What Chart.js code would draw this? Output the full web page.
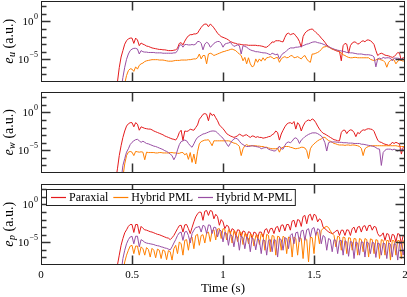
<!DOCTYPE html>
<html>
<head>
<meta charset="utf-8">
<script src="https://cdn.jsdelivr.net/npm/chart.js@4.4.1/dist/chart.umd.min.js"></script>
<style>
  html, body { margin: 0; padding: 0; background: #fff; }
  #wrap { position: relative; width: 407px; height: 297px; }
  #wrap canvas { position: absolute; left: 0; top: 0; }
</style>
</head>
<body>
<div id="wrap">
  <canvas id="cu" width="407" height="297"></canvas>
  <canvas id="cw" width="407" height="297"></canvas>
  <canvas id="cp" width="407" height="297"></canvas>
</div>
<script>
// time grid (s), 0.40 .. 2.00 every 0.01
const time = [];
for (let i = 0; i <= 160; i++) time.push(+(0.40 + i * 0.01).toFixed(2));

const names = ['Paraxial', 'Hybrid PML', 'Hybrid M-PML'];
const colors = ['#e41a1c', '#ff7f00', '#984ea3'];
const xTicks = [0, 0.5, 1, 1.5, 2];

// values are log10 of the error (a.u.)
const uParaxial = [
  -9, -9, -8, -6.1, -4.7, -3.85, -3.0, -2.55, -2.3, -2.2,
  -2.2, -2.9, -2.2, -2.45, -3.2, -2.85, -3.0, -3.1, -3.25, -3.3,
  -3.4, -3.5, -3.55, -3.6, -3.65, -3.7, -3.7, -3.75, -3.75, -3.8,
  -3.85, -3.85, -3.85, -3.8, -3.75, -3.55, -2.9, -2.8, -3.1, -2.6,
  -2.2, -1.9, -1.75, -1.75, -1.65, -1.65, -1.55, -1.15, -0.8, -0.5,
  -0.35, -0.35, -0.7, -0.35, -0.55, -0.85, -1.2, -1.55, -1.8, -2.0,
  -2.1, -2.2, -2.3, -2.45, -2.65, -2.75, -2.85, -2.9, -3.0, -3.0,
  -3.05, -3.1, -3.1, -3.1, -3.15, -3.15, -3.15, -3.15, -3.15, -3.2,
  -3.2, -3.25, -3.3, -3.4, -3.4, -3.2, -3.0, -2.7, -2.75, -2.55,
  -2.55, -2.55, -2.65, -2.7, -2.1, -1.65, -1.55, -1.75, -1.65, -1.6,
  -1.9, -2.2, -2.65, -3.4, -2.0, -1.55, -1.3, -1.15, -1.05, -1.0,
  -1.2, -1.45, -1.65, -1.9, -2.2, -2.45, -2.75, -3.1, -3.3, -3.5,
  -3.65, -3.75, -3.85, -3.95, -3.95, -5.2, -3.2, -2.9, -3.0, -4.2,
  -3.2, -2.85, -2.7, -2.75, -3.0, -2.9, -2.65, -2.55, -2.7, -2.45,
  -2.45, -2.55, -2.75, -3.05, -3.85, -4.5, -4.3, -4.2, -4.3, -4.45,
  -4.5, -4.55, -4.65, -4.75, -4.65, -4.4, -4.1, -4.2, -5.2, -4.75,
  -5.0
];
const uPml = [
  -9, -9, -9, -9, -9, -9, -8.2, -7.15, -6.5, -6.25,
  -6.3, -6.6, -6.0, -6.3, -5.8, -5.6, -5.5, -5.3, -5.2, -5.15,
  -5.1, -5.05, -5.05, -5.05, -5.05, -5.1, -5.1, -5.1, -5.15, -5.2,
  -5.25, -5.25, -5.25, -5.2, -5.15, -5.15, -5.15, -5.1, -5.1, -5.1,
  -5.1, -5.05, -5.05, -5.0, -4.95, -4.95, -4.8, -4.3, -4.95, -4.5,
  -4.5, -5.6, -4.3, -4.2, -4.3, -4.5, -4.4, -4.3, -4.2, -4.1,
  -4.0, -3.95, -3.85, -3.8, -3.7, -3.65, -3.75, -3.85, -4.1, -4.3,
  -4.5, -5.2, -4.75, -5.6, -4.8, -5.6, -6.0, -5.85, -4.95, -5.4,
  -4.95, -5.25, -4.8, -5.15, -4.8, -4.75, -4.65, -4.75, -4.95, -4.8,
  -4.75, -5.4, -4.95, -4.75, -4.65, -4.8, -4.75, -4.55, -4.5, -4.8,
  -4.75, -4.65, -4.8, -4.95, -4.65, -4.5, -4.95, -5.25, -5.4, -4.3,
  -4.3, -4.2, -4.1, -3.95, -3.7, -3.4, -3.35, -3.3, -3.4, -3.5,
  -3.65, -3.7, -3.75, -3.85, -3.95, -4.2, -4.4, -4.5, -4.65, -4.75,
  -4.8, -4.8, -4.75, -4.75, -4.8, -4.8, -4.8, -4.8, -4.8, -4.8,
  -4.8, -5.0, -5.1, -5.15, -5.1, -4.95, -5.0, -5.1, -5.15, -5.4,
  -6.05, -5.4, -5.15, -5.0, -5.1, -5.6, -5.25, -5.1, -5.15, -5.25,
  -5.1
];
const uMpml = [
  -9, -9, -9, -9, -9, -7.4, -6.05, -5.0, -4.3, -3.85,
  -3.65, -3.55, -3.55, -3.65, -4.3, -3.85, -4.0, -4.05, -4.05, -4.1,
  -4.1, -4.1, -4.1, -4.15, -4.15, -4.15, -4.15, -4.2, -4.2, -4.2,
  -4.2, -4.2, -4.2, -4.15, -4.15, -3.85, -3.2, -3.05, -3.4, -3.05,
  -3.05, -3.1, -3.1, -3.05, -3.1, -3.0, -2.65, -2.65, -2.9, -3.75,
  -3.0, -2.75, -2.9, -3.4, -3.2, -2.9, -2.75, -2.65, -2.65, -2.9,
  -3.4, -3.0, -2.9, -2.85, -2.75, -3.05, -3.3, -3.2, -3.1, -3.2,
  -4.3, -3.2, -3.3, -3.4, -3.6, -3.75, -3.85, -3.9, -4.0, -4.0,
  -4.05, -4.1, -4.15, -4.15, -4.2, -4.3, -4.4, -4.2, -4.3, -4.4,
  -4.3, -4.95, -4.5, -4.2, -4.1, -3.85, -3.65, -3.5, -3.5, -3.5,
  -3.4, -3.4, -3.35, -3.3, -3.2, -3.1, -3.0, -2.95, -2.85, -2.75,
  -2.7, -2.7, -2.8, -2.85, -2.9, -3.0, -3.1, -3.2, -3.35, -3.45,
  -3.55, -3.65, -3.75, -3.8, -3.85, -3.9, -3.95, -4.0, -4.1, -4.1,
  -4.15, -4.15, -4.2, -4.25, -4.3, -4.3, -4.3, -4.35, -4.4, -4.4,
  -4.4, -4.45, -4.5, -4.7, -6.0, -4.95, -4.85, -4.95, -4.75, -4.85,
  -4.8, -4.8, -4.85, -5.2, -4.85, -4.85, -4.85, -4.9, -4.95, -5.0,
  -5.1
];

const wParaxial = [
  -9, -9, -7.45, -5.7, -4.4, -3.3, -2.45, -1.8, -1.5, -1.35,
  -1.35, -1.9, -1.35, -1.55, -2.35, -1.9, -2.0, -2.1, -2.15, -2.2,
  -2.2, -2.3, -2.45, -2.55, -2.65, -2.75, -2.85, -2.95, -3.1, -3.2,
  -3.3, -3.4, -3.5, -3.55, -3.65, -3.3, -2.65, -2.35, -3.7, -2.45,
  -2.5, -2.45, -2.2, -2.3, -2.35, -2.0, -1.65, -0.9, -0.6, -0.25,
  -0.15, -0.25, -1.1, -0.05, -0.4, -0.25, -0.7, -1.1, -1.65, -1.9,
  -2.15, -2.45, -2.8, -2.95, -3.1, -3.2, -3.3, -3.2, -3.1, -2.85,
  -3.0, -3.15, -3.0, -2.95, -3.15, -3.3, -3.1, -3.15, -3.3, -3.2,
  -3.3, -3.3, -3.4, -3.35, -3.3, -3.2, -3.15, -2.95, -2.8, -2.45,
  -2.65, -3.65, -2.85, -2.35, -1.9, -1.55, -1.4, -1.35, -1.5, -1.2,
  -2.2, -1.35, -1.65, -2.45, -1.8, -1.35, -1.1, -1.0, -1.1, -0.85,
  -1.0, -1.35, -1.8, -2.2, -2.5, -2.75, -2.85, -3.0, -3.15, -3.3,
  -3.45, -3.6, -3.65, -3.75, -3.75, -2.65, -2.35, -2.35, -2.8, -2.45,
  -2.3, -2.35, -2.65, -3.2, -2.65, -2.8, -2.45, -2.3, -2.35, -2.2,
  -2.15, -2.2, -2.25, -2.5, -3.1, -3.65, -3.9, -3.95, -4.1, -4.2,
  -4.25, -4.35, -4.25, -3.95, -4.1, -3.95, -4.05, -4.2, -5.5, -4.6,
  -4.4
];
const wPml = [
  -9, -9, -9, -9, -9, -8.5, -6.8, -5.7, -5.25, -5.15,
  -5.25, -5.7, -5.15, -5.2, -5.25, -5.2, -5.25, -6.25, -5.25, -5.3,
  -5.3, -5.3, -5.3, -5.35, -5.35, -5.3, -5.3, -5.35, -5.35, -5.35,
  -5.35, -5.3, -5.3, -5.35, -5.35, -5.4, -5.4, -5.3, -5.3, -5.6,
  -5.4, -6.2, -5.3, -6.6, -5.5, -6.8, -5.2, -4.15, -3.85, -3.75,
  -3.65, -3.65, -3.6, -3.95, -4.4, -3.75, -3.75, -3.75, -3.75, -3.75,
  -3.75, -3.75, -3.75, -3.75, -3.8, -3.95, -4.05, -4.1, -4.25, -4.5,
  -5.7, -4.8, -4.4, -4.25, -4.4, -4.4, -4.4, -4.4, -4.4, -4.45,
  -4.45, -4.5, -4.5, -4.6, -4.6, -4.7, -4.75, -4.8, -4.8, -4.8,
  -4.7, -5.25, -4.7, -4.6, -4.5, -4.5, -4.5, -4.6, -4.65, -4.75,
  -4.8, -4.75, -4.7, -4.6, -4.6, -4.7, -5.05, -6.1, -4.8, -4.4,
  -4.15, -3.95, -3.75, -3.6, -3.5, -3.3, -3.3, -3.5, -3.75, -3.8,
  -3.95, -4.1, -4.15, -4.25, -4.3, -4.3, -4.3, -4.35, -4.3, -4.3,
  -4.35, -4.3, -4.3, -4.35, -4.4, -4.5, -4.75, -5.7, -4.8, -4.6,
  -4.5, -4.4, -4.4, -4.4, -4.4, -4.4, -4.4, -4.4, -4.4, -4.4,
  -4.4, -4.4, -4.4, -4.4, -4.4, -4.4, -4.45, -4.5, -4.5, -4.5,
  -4.5
];
const wMpml = [
  -9, -9, -9, -9, -9, -7.0, -6.1, -5.25, -4.8, -4.25,
  -3.95, -3.75, -3.6, -3.55, -3.75, -3.95, -3.8, -3.95, -4.1, -4.15,
  -4.25, -4.35, -4.45, -4.5, -4.6, -4.7, -4.8, -4.9, -5.05, -5.15,
  -5.3, -5.5, -5.7, -6.25, -5.8, -4.95, -4.25, -3.85, -3.75, -3.65,
  -3.75, -4.1, -4.4, -4.6, -4.15, -3.65, -3.3, -3.15, -3.0, -2.85,
  -2.8, -2.7, -2.6, -2.5, -2.45, -2.45, -2.5, -2.7, -2.95, -3.2,
  -3.4, -3.75, -4.15, -4.5, -4.1, -3.75, -3.5, -3.4, -3.5, -3.8,
  -4.1, -4.25, -4.4, -4.5, -4.5, -4.45, -4.4, -4.45, -4.5, -4.55,
  -4.6, -4.8, -4.7, -4.65, -4.65, -4.85, -4.95, -5.0, -5.1, -5.05,
  -4.8, -4.45, -4.8, -4.85, -4.35, -4.0, -3.9, -4.0, -3.8, -3.45,
  -3.35, -3.55, -4.1, -3.65, -3.45, -3.2, -3.05, -2.9, -2.8, -2.7,
  -2.7, -2.7, -2.8, -2.95, -3.1, -3.45, -4.0, -5.1, -4.0, -3.9,
  -3.9, -3.9, -3.9, -3.95, -3.95, -3.95, -4.0, -4.0, -4.0, -4.05,
  -4.05, -4.05, -4.1, -4.1, -4.1, -4.1, -4.2, -4.2, -4.25, -4.3,
  -4.35, -4.4, -4.45, -4.5, -4.65, -4.8, -4.85, -7.0, -5.3, -5.0,
  -4.85, -4.85, -4.85, -4.95, -4.85, -4.95, -5.1, -4.95, -4.85, -4.95,
  -4.95
];

const pParaxial = [
  -9, -9, -8.0, -6.7, -5.4, -4.5, -3.75, -3.35, -2.9, -2.65,
  -2.65, -3.7, -2.65, -2.65, -3.85, -2.9, -3.15, -3.35, -3.4, -3.5,
  -3.6, -3.65, -3.75, -3.85, -3.95, -4.0, -4.1, -4.2, -4.3, -4.4,
  -4.45, -4.65, -4.4, -4.1, -3.65, -3.2, -2.8, -2.75, -3.65, -2.7,
  -2.65, -3.2, -3.85, -3.05, -2.3, -1.65, -1.25, -1.0, -1.05, -2.1,
  -0.9, -0.8, -1.45, -0.8, -0.9, -1.9, -1.3, -1.6, -2.75, -2.0,
  -2.3, -3.2, -2.75, -2.9, -3.85, -3.2, -3.35, -4.1, -3.35, -3.4,
  -4.3, -3.5, -3.6, -4.4, -3.6, -3.7, -4.5, -3.65, -3.75, -4.5,
  -3.65, -3.65, -4.3, -3.35, -3.2, -3.85, -3.2, -3.15, -3.85, -3.05,
  -2.9, -3.65, -2.75, -2.7, -3.5, -2.65, -2.65, -3.4, -2.2, -2.1,
  -3.0, -2.0, -2.1, -2.9, -1.6, -1.45, -2.55, -1.45, -1.3, -2.1,
  -1.3, -1.45, -2.3, -1.9, -2.1, -3.0, -3.2, -3.4, -3.65, -3.75,
  -3.85, -3.75, -3.5, -3.4, -4.1, -3.4, -3.4, -4.1, -3.35, -3.4,
  -4.1, -3.2, -3.0, -3.75, -3.0, -2.9, -3.65, -2.9, -2.8, -3.5,
  -2.8, -2.75, -3.4, -2.9, -3.0, -3.85, -4.2, -4.1, -3.75, -4.75,
  -3.85, -3.95, -4.95, -3.95, -4.05, -4.95, -3.85, -3.95, -5.2, -4.1,
  -4.2
];
const pPml = [
  -9, -9, -9, -9, -9, -9, -7.6, -6.7, -6.05, -5.5,
  -5.4, -6.5, -5.5, -5.5, -6.7, -5.6, -5.85, -6.7, -5.7, -5.95,
  -6.95, -5.8, -6.05, -7.05, -5.9, -6.05, -7.15, -6.0, -6.15, -7.3,
  -6.1, -6.25, -7.35, -5.85, -5.4, -6.5, -4.95, -5.2, -6.7, -4.75,
  -4.65, -6.05, -4.5, -4.3, -5.85, -4.1, -3.95, -5.4, -4.1, -4.0,
  -5.1, -3.8, -3.65, -4.9, -3.5, -3.35, -4.7, -3.25, -3.2, -4.5,
  -3.2, -3.3, -4.7, -3.35, -3.5, -5.1, -3.5, -3.65, -4.9, -3.65,
  -3.7, -5.3, -3.85, -3.95, -5.2, -3.95, -4.05, -5.5, -4.1, -4.05,
  -5.3, -3.85, -4.05, -6.05, -3.95, -4.1, -6.25, -4.1, -4.2, -6.7,
  -4.2, -4.3, -6.05, -4.2, -4.4, -6.5, -4.3, -4.4, -6.95, -4.3,
  -4.5, -6.7, -4.4, -4.5, -7.15, -4.4, -4.65, -7.6, -4.3, -4.4,
  -6.5, -3.85, -3.65, -5.2, -3.4, -3.2, -3.0, -2.9, -3.05, -3.5,
  -3.85, -4.1, -5.6, -4.2, -4.3, -6.05, -4.3, -4.4, -6.5, -4.4,
  -4.45, -6.05, -4.5, -4.55, -6.7, -4.5, -4.65, -6.25, -4.5, -4.65,
  -6.95, -4.55, -4.65, -6.5, -4.65, -4.75, -7.15, -4.65, -4.75, -6.7,
  -4.75, -4.8, -7.35, -4.75, -4.8, -6.7, -4.75, -4.8, -7.15, -4.8,
  -4.95
];
const pMpml = [
  -9, -9, -9, -9, -9, -7.15, -6.05, -5.2, -4.65, -4.3,
  -4.2, -5.2, -4.2, -4.2, -5.6, -4.65, -4.8, -5.0, -5.1, -5.15,
  -5.2, -5.25, -5.3, -5.4, -5.45, -5.5, -5.6, -5.65, -5.75, -5.8,
  -5.9, -6.0, -5.6, -5.1, -4.65, -4.1, -3.75, -3.65, -4.75, -3.65,
  -3.55, -4.1, -5.1, -3.85, -3.4, -3.05, -3.0, -2.9, -3.65, -2.75,
  -2.9, -3.85, -2.7, -2.75, -3.85, -3.0, -3.05, -4.3, -3.35, -3.5,
  -4.95, -3.65, -3.85, -5.4, -3.95, -4.2, -5.6, -4.1, -4.3, -6.05,
  -4.2, -4.4, -5.85, -4.3, -4.5, -6.25, -4.4, -4.65, -6.0, -4.5,
  -4.75, -6.5, -4.65, -4.8, -6.7, -4.75, -4.65, -6.25, -4.65, -4.75,
  -6.95, -4.5, -4.65, -6.05, -4.4, -4.5, -5.85, -4.1, -3.85, -5.2,
  -3.75, -3.65, -4.95, -3.5, -3.4, -4.75, -3.35, -3.2, -4.3, -3.2,
  -3.05, -4.1, -3.2, -3.35, -5.2, -4.1, -4.3, -6.05, -4.5, -4.65,
  -6.25, -4.65, -4.75, -6.5, -4.8, -4.75, -6.7, -4.8, -4.95, -6.85,
  -4.9, -5.0, -7.15, -4.95, -5.1, -6.7, -4.95, -5.0, -6.95, -4.95,
  -5.1, -6.5, -5.0, -5.1, -7.0, -5.1, -5.2, -6.7, -5.1, -5.2,
  -7.15, -5.1, -5.25, -6.95, -5.2, -5.25, -7.35, -5.1, -5.2, -6.7,
  -5.2
];

const yMinExp = -8, yMaxExp = 2.7;
const serif = '"Liberation Serif", "Times New Roman", serif';

function pts(logs) {
  return logs.map((v, i) => ({ x: time[i], y: Math.pow(10, v) }));
}

function drawExpLabel(ctx, xRight, yMid, exp) {
  const base = '10', sup = exp === 0 ? '0' : '\u2212' + Math.abs(exp);
  ctx.font = '11px ' + serif;
  const wb = ctx.measureText(base).width;
  ctx.font = '8px ' + serif;
  const ws = ctx.measureText(sup).width;
  const x0 = xRight - ws - wb - 0.5;
  ctx.textBaseline = 'middle';
  ctx.textAlign = 'left';
  ctx.font = '11px ' + serif;
  ctx.fillText(base, x0, yMid + 0.5);
  ctx.font = '8px ' + serif;
  ctx.fillText(sup, x0 + wb + 0.5, yMid - 4.5);
}

const decorate = {
  id: 'decorate',
  afterDatasetsDraw(chart, args, o) {
    const { ctx, chartArea: a } = chart;
    const x = chart.scales.x, y = chart.scales.y;
    ctx.save();
    ctx.fillStyle = '#000';
    ctx.strokeStyle = '#222';
    // frame
    ctx.lineWidth = 1;
    const L = Math.round(a.left) + 0.5, R = Math.round(a.right) - 0.5;
    const T = Math.round(a.top) + 0.5, B = Math.round(a.bottom) - 0.5;
    ctx.strokeRect(L, T, R - L, B - T);
    // inner ticks
    ctx.lineWidth = 1.5;
    ctx.strokeStyle = '#333';
    ctx.beginPath();
    [0.5, 1, 1.5].forEach(v => {
      const px = Math.round(x.getPixelForValue(v)) + 0.5;
      ctx.moveTo(px, T); ctx.lineTo(px, T + 9);
      ctx.moveTo(px, B); ctx.lineTo(px, B - 9);
    });
    for (let e = -7; e <= 2; e++) {
      const py = Math.round(y.getPixelForValue(Math.pow(10, e))) + 0.5;
      const len = (e === 0 || e === -5) ? 9 : 5;
      ctx.moveTo(L, py); ctx.lineTo(L + len, py);
      ctx.moveTo(R, py); ctx.lineTo(R - len, py);
    }
    ctx.stroke();
    // y tick labels
    [0, -5].forEach(e => drawExpLabel(ctx, 38, y.getPixelForValue(Math.pow(10, e)), e));
    // y title, rotated
    ctx.save();
    ctx.translate(9, (a.top + a.bottom) / 2);
    ctx.rotate(-Math.PI / 2);
    ctx.textBaseline = 'middle';
    ctx.textAlign = 'left';
    const f1 = 'italic 14px ' + serif, f2 = 'italic 10px ' + serif, f3 = '14px ' + serif;
    const rest = ' (a.u.)';
    ctx.font = f1; const we = ctx.measureText('e').width;
    ctx.font = f2; const ws = ctx.measureText(o.sym).width;
    ctx.font = f3; const wr = ctx.measureText(rest).width;
    let cx = -(we + ws + wr) / 2;
    ctx.font = f1; ctx.fillText('e', cx, 0); cx += we;
    ctx.font = f2; ctx.fillText(o.sym, cx + 0.3, 3); cx += ws + 0.5;
    ctx.font = f3; ctx.fillText(rest, cx, 0);
    ctx.restore();
    // legend
    if (o.legend) {
      const bx = 46.5, by = 189.5, bh = 16;
      ctx.font = '12px ' + serif;
      let xx = bx + 4.5;
      const items = names.map((n, i) => {
        const it = { n, c: colors[i], x: xx };
        xx += 15 + 3 + ctx.measureText(n).width + 5;
        return it;
      });
      const bw = xx - bx - 2;
      ctx.fillStyle = '#fff';
      ctx.fillRect(bx, by, bw, bh);
      ctx.lineWidth = 1;
      ctx.strokeStyle = '#222';
      ctx.strokeRect(bx, by, bw, bh);
      ctx.textBaseline = 'middle';
      ctx.textAlign = 'left';
      items.forEach(it => {
        ctx.strokeStyle = it.c;
        ctx.lineWidth = 1.2;
        ctx.beginPath();
        ctx.moveTo(it.x, by + bh / 2);
        ctx.lineTo(it.x + 15, by + bh / 2);
        ctx.stroke();
        ctx.fillStyle = '#000';
        ctx.fillText(it.n, it.x + 18, by + bh / 2 + 0.5);
      });
    }
    ctx.restore();
  }
};

function panel(id, sym, series, top, bottom, showX, legend) {
  const ds = series.map((s, i) => ({
    label: names[i],
    data: pts(s),
    borderColor: colors[i],
    borderWidth: 1,
    pointRadius: 0,
    tension: 0,
    fill: false,
    order: 2 - i
  }));
  const xScale = {
    type: 'linear', min: 0, max: 2,
    display: showX,
    grid: { display: false, drawTicks: false },
    border: { display: false },
    ticks: {
      stepSize: 0.5, padding: 4, color: '#000',
      font: { family: serif, size: 11 },
      callback: v => xTicks.includes(v) ? String(v) : ''
    },
    title: {
      display: true, text: 'Time (s)', color: '#000',
      font: { family: serif, size: 13 }, padding: { top: 0, bottom: 1 }
    }
  };
  if (showX) {
    xScale.afterFit = s => { s.height = 297 - bottom; s.paddingLeft = 0; s.paddingRight = 0; };
  }
  return new Chart(document.getElementById(id), {
    type: 'line',
    data: { datasets: ds },
    plugins: [decorate],
    options: {
      responsive: false,
      animation: false,
      devicePixelRatio: 1,
      layout: { padding: { left: 41, right: 2, top: top, bottom: showX ? 0 : 297 - bottom } },
      scales: {
        x: xScale,
        y: {
          type: 'logarithmic', min: Math.pow(10, yMinExp), max: Math.pow(10, yMaxExp),
          display: false
        }
      },
      plugins: {
        legend: { display: false },
        tooltip: { enabled: false },
        decorate: { sym: sym, legend: legend }
      }
    }
  });
}

panel('cu', 'u', [uParaxial, uPml, uMpml], 1, 82, false, false);
panel('cw', 'w', [wParaxial, wPml, wMpml], 92, 173, false, false);
panel('cp', 'p', [pParaxial, pPml, pMpml], 184, 265, true, true);
</script>
</body>
</html>
